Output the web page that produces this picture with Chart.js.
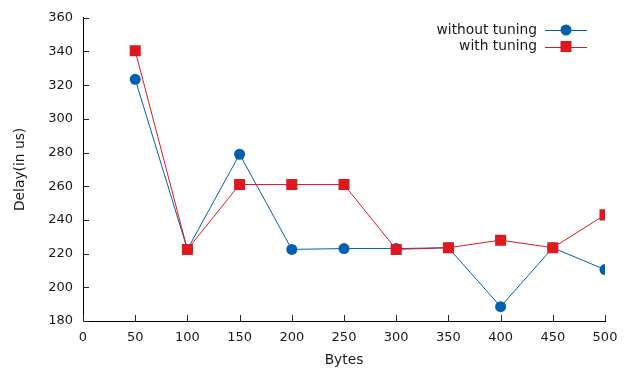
<!DOCTYPE html>
<html>
<head>
<meta charset="utf-8">
<script src="https://cdn.jsdelivr.net/npm/chart.js@4/dist/chart.umd.min.js"></script>
<style>
  html, body { margin: 0; padding: 0; background: #fff; }
  #wrap { width: 631px; height: 371px; }
</style>
</head>
<body>
<div id="wrap"><canvas id="c" width="631" height="371"></canvas></div>
<script>
// Packet size (bytes) on the x axis
const bytes = [50, 100, 150, 200, 250, 300, 350, 400, 450, 500];
// Measured delay in microseconds
const withoutTuning = [323.5, 222.5, 279, 222.5, 223, 223, 223.5, 188.5, 223.5, 210.5];
const withTuning    = [340.5, 222.5, 261, 261, 261, 222.5, 223.5, 228, 223.5, 243];
const seriesNames = ['without tuning', 'with tuning'];
const xTitle = 'Bytes';
const yTitle = 'Delay(in us)';

const FONT = 'DejaVu Sans';
const TICK_SIZE = 13;
const LABEL_SIZE = 13.8;
const TEXT = '#1a1a1a';
const BLUE = '#0060ad';
const RED = '#dd181f';

const toPoints = ys => bytes.map((x, i) => ({ x, y: ys[i] }));

// Short tick marks pointing into the plot area
const inwardTicks = {
  id: 'inwardTicks',
  beforeDatasetsDraw(chart) {
    const { ctx, chartArea: a, scales } = chart;
    const len = 6;
    ctx.save();
    ctx.strokeStyle = '#222';
    ctx.lineWidth = 1;
    ctx.beginPath();
    scales.x.ticks.forEach(t => {
      const px = Math.round(scales.x.getPixelForValue(t.value)) + 0.5;
      ctx.moveTo(px, a.bottom);
      ctx.lineTo(px, a.bottom - len);
    });
    scales.y.ticks.forEach(t => {
      const py = Math.round(scales.y.getPixelForValue(t.value)) + 0.5;
      ctx.moveTo(a.left, py);
      ctx.lineTo(a.left + len, py);
    });
    ctx.stroke();
    ctx.restore();
  }
};

// Key in the top-right corner: label text on the left, line sample with marker on the right
const keyBox = {
  id: 'keyBox',
  afterDraw(chart) {
    const { ctx } = chart;
    const textRight = 537, lineL = 545, lineR = 587, rowY = [30, 46.5];
    const cx = (lineL + lineR) / 2;
    ctx.save();
    ctx.font = LABEL_SIZE + 'px "' + FONT + '"';
    ctx.textAlign = 'right';
    ctx.textBaseline = 'middle';
    chart.data.datasets.forEach((ds, row) => {
      const y = rowY[row];
      ctx.fillStyle = TEXT;
      ctx.fillText(ds.label, textRight, y);
      ctx.strokeStyle = ds.borderColor;
      ctx.lineWidth = 1;
      ctx.beginPath();
      ctx.moveTo(lineL, Math.round(y) + 0.5);
      ctx.lineTo(lineR, Math.round(y) + 0.5);
      ctx.stroke();
      ctx.fillStyle = ds.pointBackgroundColor;
      ctx.beginPath();
      if (ds.pointStyle === 'rect') {
        const s = Math.SQRT1_2 * ds.pointRadius;
        ctx.rect(cx - s, y - s, 2 * s, 2 * s);
      } else {
        ctx.arc(cx, y, ds.pointRadius, 0, Math.PI * 2);
      }
      ctx.fill();
    });
    ctx.restore();
  }
};

new Chart(document.getElementById('c'), {
  type: 'line',
  data: {
    datasets: [
      {
        label: seriesNames[0],
        data: toPoints(withoutTuning),
        borderColor: BLUE,
        backgroundColor: BLUE,
        pointBackgroundColor: BLUE,
        borderWidth: 1,
        pointStyle: 'circle',
        pointRadius: 5.5,
        pointBorderWidth: 0,
        order: 2
      },
      {
        label: seriesNames[1],
        data: toPoints(withTuning),
        borderColor: RED,
        backgroundColor: RED,
        pointBackgroundColor: RED,
        borderWidth: 1,
        pointStyle: 'rect',
        pointRadius: 7.8,
        pointBorderWidth: 0,
        order: 1
      }
    ]
  },
  options: {
    responsive: false,
    animation: false,
    events: [],
    layout: { padding: { top: 16, right: 26, left: 0, bottom: 0 } },
    plugins: { legend: { display: false }, tooltip: { enabled: false } },
    elements: { line: { tension: 0 } },
    scales: {
      x: {
        type: 'linear',
        min: 0, max: 500,
        afterFit(s) { s.height = 50; },
        grid: { display: false, drawTicks: false },
        border: { display: true, color: '#000', width: 1 },
        ticks: {
          stepSize: 50, padding: 9, maxRotation: 0, autoSkip: false,
          color: TEXT, font: { family: FONT, size: TICK_SIZE }
        },
        title: {
          display: true, text: xTitle, color: TEXT,
          font: { family: FONT, size: LABEL_SIZE }, padding: { top: 0, bottom: 2 }
        }
      },
      y: {
        type: 'linear',
        min: 180, max: 360,
        afterFit(s) { s.width = 83; },
        grid: { display: false, drawTicks: false },
        border: { display: true, color: '#000', width: 1 },
        ticks: {
          stepSize: 20, padding: 10,
          color: TEXT, font: { family: FONT, size: TICK_SIZE }
        },
        title: {
          display: true, text: yTitle, color: TEXT,
          font: { family: FONT, size: LABEL_SIZE }, padding: { top: 12, bottom: 0 }
        }
      }
    }
  },
  plugins: [inwardTicks, keyBox]
});
</script>
</body>
</html>
